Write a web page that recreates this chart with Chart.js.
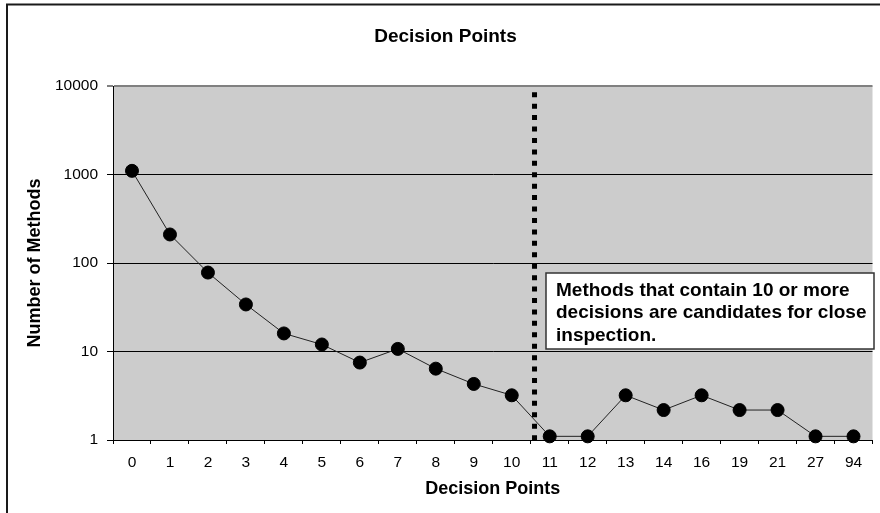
<!DOCTYPE html>
<html>
<head>
<meta charset="utf-8">
<script src="https://cdn.jsdelivr.net/npm/chart.js@4/dist/chart.umd.min.js"></script>
<style>
  html, body { margin: 0; padding: 0; background: #fff; }
  #wrap { width: 880px; height: 513px; }
</style>
</head>
<body>
<div id="wrap"><canvas id="c" width="880" height="513"></canvas></div>
<script>
// ---- data ----
const categories = ['0','1','2','3','4','5','6','7','8','9','10','11','12','13','14','16','19','21','27','94'];
const methodCounts = [1100, 210, 78, 34, 16, 12, 7.5, 10.7, 6.4, 4.3, 3.2, 1.1, 1.1, 3.2, 2.18, 3.2, 2.18, 2.18, 1.1, 1.1];
const yTickValues = [1, 10, 100, 1000, 10000];
const dividerIndex = 10.6;   // position (in category index units) of dotted divider
const dividerTopValue = 8500;
const annotationLines = ['Methods that contain 10 or more', 'decisions are candidates for close', 'inspection.'];

const FONT = '"Liberation Sans", Arial, Helvetica, sans-serif';

const bgPlugin = {
  id: 'bg',
  beforeDraw(chart) {
    const {ctx, chartArea: a} = chart;
    ctx.save();
    ctx.fillStyle = '#ffffff';
    ctx.fillRect(0, 0, chart.width, chart.height);
    ctx.fillStyle = '#cccccc';
    ctx.fillRect(a.left, a.top, a.right - a.left, a.bottom - a.top);
    ctx.restore();
  },
  afterDraw(chart) {
    const {ctx, chartArea: a, scales} = chart;
    ctx.save();
    // outer chart border
    ctx.strokeStyle = '#1a1a1a';
    ctx.lineWidth = 2;
    ctx.strokeRect(7, 4.5, 900, 600);
    // dotted divider
    const x = scales.x.getPixelForValue(dividerIndex);
    const yTop = scales.y.getPixelForValue(dividerTopValue);
    ctx.strokeStyle = '#000';
    ctx.lineWidth = 5;
    ctx.lineCap = 'butt';
    ctx.setLineDash([5, 6.43]);
    ctx.beginPath();
    ctx.moveTo(x, yTop);
    ctx.lineTo(x, a.bottom + 3);
    ctx.stroke();
    ctx.setLineDash([]);
    // annotation box
    const bx = a.left + 433, by = 273, bw = 328, bh = 76;
    ctx.fillStyle = '#ffffff';
    ctx.fillRect(bx, by, bw, bh);
    ctx.strokeStyle = '#333333';
    ctx.lineWidth = 1.5;
    ctx.strokeRect(bx, by, bw, bh);
    ctx.fillStyle = '#000';
    ctx.font = 'bold 19px ' + FONT;
    ctx.textAlign = 'left';
    ctx.textBaseline = 'alphabetic';
    annotationLines.forEach((t, i) => ctx.fillText(t, bx + 10, by + 23 + i * 22.3));
    ctx.restore();
  }
};

new Chart(document.getElementById('c'), {
  type: 'line',
  data: {
    labels: categories,
    datasets: [{
      data: methodCounts,
      borderColor: '#222',
      borderWidth: 1,
      pointRadius: 6.5,
      pointBackgroundColor: '#000',
      pointBorderColor: '#000',
      pointBorderWidth: 1,
      tension: 0,
      clip: false
    }]
  },
  options: {
    responsive: false,
    animation: false,
    devicePixelRatio: 1,
    layout: { padding: { left: 14, right: 3, top: 0, bottom: 0 } },
    plugins: {
      legend: { display: false },
      tooltip: { enabled: false },
      title: {
        display: true,
        text: 'Decision Points',
        color: '#000',
        font: { family: FONT, size: 19, weight: 'bold' },
        padding: { top: 25, bottom: 38.2 }
      }
    },
    scales: {
      x: {
        type: 'category',
        offset: true,
        grid: { offset: true, drawOnChartArea: false, drawTicks: true, tickLength: 4, color: '#000', lineWidth: 1 },
        border: { display: true, color: '#000', width: 1 },
        ticks: { color: '#000', font: { family: FONT, size: 15.5 }, padding: 9, maxRotation: 0, autoSkip: false },
        title: {
          display: true, text: 'Decision Points', color: '#000',
          font: { family: FONT, size: 18, weight: 'bold' },
          padding: { top: 0, bottom: 13.2 }
        },
        afterFit(s) { s.height = 73; }
      },
      y: {
        type: 'logarithmic',
        min: 1,
        max: 10000,
        afterBuildTicks(s) { s.ticks = yTickValues.map(v => ({ value: v })); },
        ticks: { color: '#000', font: { family: FONT, size: 15.5 }, padding: 9, callback: v => String(v) },
        grid: {
          color: c => (c.tick && c.tick.value === 10000) ? '#808080' : '#000',
          lineWidth: c => (c.tick && c.tick.value === 10000) ? 2 : 1,
          drawTicks: true,
          tickLength: 6
        },
        border: { display: true, color: '#000', width: 1 },
        title: {
          display: true, text: 'Number of Methods', color: '#000',
          font: { family: FONT, size: 18, weight: 'bold' },
          padding: { top: 10.2, bottom: 0 }
        },
        afterFit(s) { s.width = 99; }
      }
    }
  },
  plugins: [bgPlugin]
});
</script>
</body>
</html>
